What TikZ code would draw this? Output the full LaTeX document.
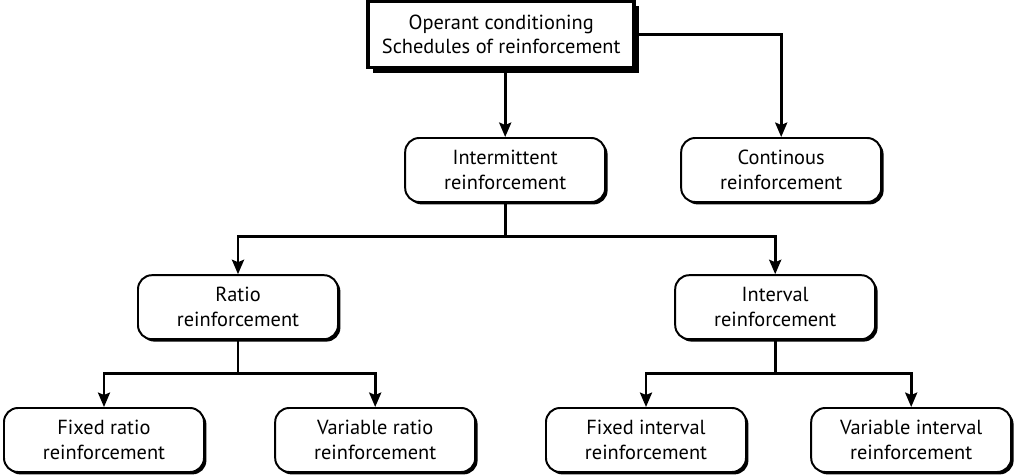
\documentclass[tikz,border=0pt]{standalone}
\usepackage{fontspec}
\setmainfont{PT Sans}
\usetikzlibrary{positioning, arrows.meta, calc, shadows}

\begin{document}
\begin{tikzpicture}[
    >={Stealth[length=3.6mm, width=3mm, inset=0.6mm]},
    font=\fontsize{14.5}{17.5}\selectfont,
    sbox/.style={draw=black, line width=1.4pt, rounded corners=3.5mm,
                 minimum height=16mm, minimum width=50mm, align=center, fill=white,
                 drop shadow={shadow xshift=0.6mm, shadow yshift=-0.6mm,
                              fill=black, opacity=1}},
    tbox/.style={draw=black, line width=2.6pt, minimum height=16.6mm,
                 minimum width=66.5mm, align=center, fill=white,
                 drop shadow={shadow xshift=1.3mm, shadow yshift=-1.3mm,
                              fill=black, opacity=1}},
    link/.style={line width=2pt},
]
  \useasboundingbox (0,0) rectangle (25.375,-11.9);
  % Top
  \node[tbox] (ops) at (12.53,-0.86) {Operant conditioning\\Schedules of reinforcement};
  % Second level
  \node[sbox] (interm) at (12.63,-4.25) {Intermittent\\reinforcement};
  \node[sbox] (cont) at (19.53,-4.25) {Continous\\reinforcement};
  % Third level
  \node[sbox] (ratio) at (5.95,-7.68) {Ratio\\reinforcement};
  \node[sbox] (interval) at (19.38,-7.68) {Interval\\reinforcement};
  % Bottom level
  \node[sbox] (fratio) at (2.6,-11.0) {Fixed ratio\\reinforcement};
  \node[sbox] (vratio) at (9.38,-11.0) {Variable ratio\\reinforcement};
  \node[sbox] (finterval) at (16.15,-11.0) {Fixed interval\\reinforcement};
  \node[sbox] (vinterval) at (22.78,-11.0) {Variable interval\\reinforcement};
  % Arrows from the top
  \draw[link,->] (interm.north |- ops.south) -- (interm.north);
  \draw[link,->] (ops.east) -| (cont.north);
  % Intermittent branches
  \draw[link,->] (interm.south) -- ++(0,-0.83) -| (ratio.north);
  \draw[link,->] (interm.south) -- ++(0,-0.83) -| (interval.north);
  % Ratio branches
  \draw[link,->] (ratio.south) -- ++(0,-0.83) -| (fratio.north);
  \draw[link,->] (ratio.south) -- ++(0,-0.83) -| (vratio.north);
  % Interval branches
  \draw[link,->] (interval.south) -- ++(0,-0.83) -| (finterval.north);
  \draw[link,->] (interval.south) -- ++(0,-0.83) -| (vinterval.north);
\end{tikzpicture}
\end{document}
